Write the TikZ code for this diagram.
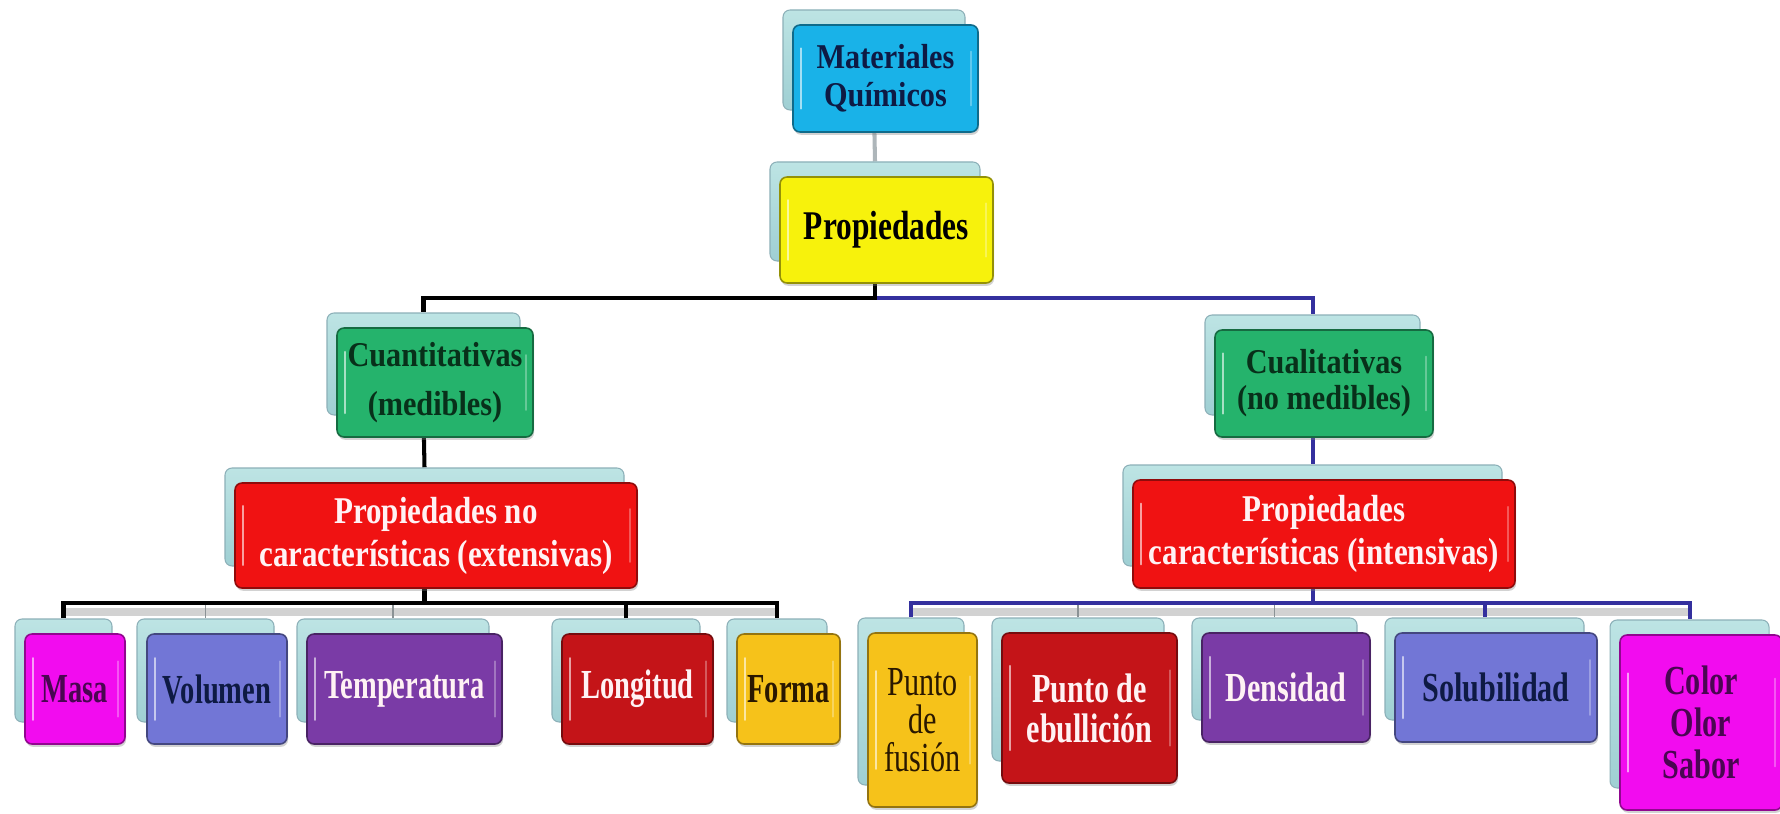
\documentclass[tikz,border=0pt]{standalone}
\usepackage{fontspec}
\setmainfont{Liberation Serif}
\newfontfamily\fa[FakeStretch=0.87]{Liberation Serif}
\newfontfamily\fb[FakeStretch=0.77]{Liberation Serif}
\newfontfamily\fc[FakeStretch=0.82]{Liberation Serif}
\newfontfamily\fd[FakeStretch=0.69]{Liberation Serif}
\newfontfamily\fe[FakeStretch=0.73]{Liberation Serif}
\usetikzlibrary{shadows,backgrounds}
\definecolor{cyanb}{HTML}{19B2E8}
\definecolor{yelb}{HTML}{F7F20C}
\definecolor{grnb}{HTML}{25B36C}
\definecolor{redb}{HTML}{F01212}
\definecolor{magb}{HTML}{F20CEF}
\definecolor{perib}{HTML}{7276D6}
\definecolor{purpb}{HTML}{7A3BA6}
\definecolor{dredb}{HTML}{C41418}
\definecolor{goldb}{HTML}{F6C21A}
\definecolor{backc}{HTML}{9FCFD3}
\definecolor{backt}{HTML}{BDE4E4}
\definecolor{backe}{HTML}{8CB0B8}
\definecolor{bluel}{HTML}{34309E}
\definecolor{grayl}{HTML}{AEB6BA}
\definecolor{navyt}{HTML}{0E1A44}
\definecolor{greent}{HTML}{08301A}
\definecolor{purpt}{HTML}{4A0652}
\definecolor{brownt}{HTML}{2A1800}
\definecolor{pinkw}{HTML}{FFF2F4}
\tikzset{
  backbox/.style={draw=backe, line width=0.6pt, rounded corners=4pt, top color=backt, bottom color=backc, inner sep=0pt},
  frontbox/.style={rounded corners=4pt, line width=0.9pt, inner sep=0pt, align=center,
    drop shadow={opacity=0.35,shadow xshift=0.6pt,shadow yshift=-1.6pt}},
  gloss/.style={white, opacity=0.6, line width=1.4pt, line cap=round},
  conn/.style={line width=2.3pt},
  thinconn/.style={grayl!80!black, line width=1.1pt},
  shadowline/.style={gray!35, line width=4pt},
  tA/.style={font=\fa\bfseries\fontsize{19.8}{21.5}\selectfont},
  tAw/.style={font=\fa\bfseries\fontsize{19.8}{28}\selectfont},
  tAn/.style={font=\fa\bfseries\fontsize{19.8}{20.5}\selectfont},
  tB/.style={font=\fb\bfseries\fontsize{23.2}{26}\selectfont},
  tC/.style={font=\fc\bfseries\fontsize{21.5}{24.4}\selectfont},
  tD/.style={font=\fd\bfseries\fontsize{23.5}{23}\selectfont},
  tE/.style={font=\fe\bfseries\fontsize{23.5}{22.7}\selectfont},
  tEr/.style={font=\fe\mdseries\fontsize{23.5}{21.5}\selectfont},
  tEc/.style={font=\fe\bfseries\fontsize{23.5}{24}\selectfont},
}
% #1 name, #2 x1, #3 y1, #4 x2, #5 y2, #6 fill, #7 text style, #8 text colour, #9 text
\newcommand\mkbox[9]{%
  \node[backbox, minimum width={(#4-#2-3)*0.02cm}, minimum height={(#5-#3-7)*0.02cm}]
    (#1b) at ({(#2+#4-23)/2},{(#3+#5-37)/2}) {};
  \node[frontbox, fill=#6, draw=#6!60!black, text=#8, #7,
    minimum width={(#4-#2)*0.02cm}, minimum height={(#5-#3)*0.02cm}]
    (#1) at ({(#2+#4)/2},{(#3+#5)/2}) {#9};
  \draw[gloss] (#2+8,{#3+0.22*(#5-#3)}) -- (#2+8,{#5-0.22*(#5-#3)});
  \draw[gloss, opacity=0.3] (#4-7,{#3+0.25*(#5-#3)}) -- (#4-7,{#5-0.25*(#5-#3)});
}
\begin{document}
\begin{tikzpicture}[x=0.02cm,y=-0.02cm]
\useasboundingbox (0,0) rectangle (1780,814);
\clip (0,0) rectangle (1780,814);
\begin{scope}[on background layer]
  \fill[white] (0,0) rectangle (1780,814);
\end{scope}

\mkbox{mat}{793}{25}{978}{132}{cyanb}{tA}{navyt}{Materiales\\Químicos}
\mkbox{prop}{780}{177}{993}{283}{yelb}{tB}{black}{Propiedades}
\mkbox{cuant}{337}{328}{533}{437}{grnb}{tAw}{greent}{Cuantitativas\\(medibles)}
\mkbox{cuali}{1215}{330}{1433}{437}{grnb}{tAn}{greent}{Cualitativas\\(no medibles)}
\mkbox{redL}{235}{483}{637}{588}{redb}{tC}{pinkw}{Propiedades no\\características (extensivas)}
\mkbox{redR}{1133}{480}{1515}{588}{redb}{tC}{pinkw}{Propiedades\\características (intensivas)}

\mkbox{masa}{25}{634}{125}{744}{magb}{tD}{purpt}{Masa}
\mkbox{vol}{147}{634}{287}{744}{perib}{tD}{navyt}{Volumen}
\mkbox{temp}{307}{634}{502}{744}{purpb}{tD}{pinkw}{Temperatura}
\mkbox{long}{562}{634}{713}{744}{dredb}{tD}{pinkw}{Longitud}
\mkbox{forma}{737}{634}{840}{744}{goldb}{tD}{brownt}{Forma}

\mkbox{fus}{868}{633}{977}{807}{goldb}{tEr}{brownt}{Punto\\de\\fusión}
\mkbox{ebu}{1002}{633}{1177}{783}{dredb}{tE}{pinkw}{Punto de\\ebullición}
\mkbox{dens}{1202}{633}{1370}{742}{purpb}{tE}{pinkw}{Densidad}
\mkbox{solu}{1395}{633}{1597}{742}{perib}{tE}{navyt}{Solubilidad}
\mkbox{col}{1620}{635}{1782}{810}{magb}{tEc}{purpt}{Color\\Olor\\Sabor}

\coordinate (busA) at (0,298);
\coordinate (busB) at (0,603);
\coordinate (busC) at (0,612);

\begin{scope}[on background layer]
  % top
  \draw[conn, grayl] (matb.south) -- (propb.north);
  \draw[conn, bluel] (propb.south |- busA) -| (cualib.north);
  \draw[conn, black] (propb.south) -- (propb.south |- busA) -| (cuantb.north);
  \draw[conn, black] (cuantb.south) -- (redLb.north);
  \draw[conn, bluel] (cualib.south) -- (redRb.north);
  % shadow bands
  \draw[shadowline] (masab.north |- busC) -- (formab.north |- busC);
  \draw[shadowline] (fusb.north |- busC) -- (colb.north |- busC);
  % thin gray drops
  \draw[thinconn] (volb.north) -- (volb.north |- busB);
  \draw[thinconn] (tempb.north) -- (tempb.north |- busB);
  \draw[thinconn] (ebub.north) -- (ebub.north |- busB);
  \draw[thinconn] (densb.north) -- (densb.north |- busB);
  % left bus (black)
  \draw[conn, black] (redLb.south) -- (redLb.south |- busB);
  \draw[conn, black] (masab.north) |- (formab.north |- busB) -- (formab.north);
  \draw[conn, black] (longb.north) -- (longb.north |- busB);
  % right bus (blue)
  \draw[conn, bluel] (redRb.south) -- (redRb.south |- busB);
  \draw[conn, bluel] (fusb.north) |- (colb.north |- busB) -- (colb.north);
  \draw[conn, bluel] (solub.north) -- (solub.north |- busB);
\end{scope}
\end{tikzpicture}
\end{document}
